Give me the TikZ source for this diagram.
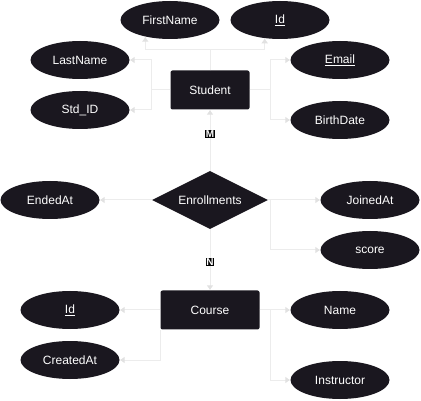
\documentclass[tikz,border=0pt]{standalone}
\usepackage{fontspec}
\setmainfont{Liberation Sans}
\usetikzlibrary{shapes.geometric,arrows.meta}
\definecolor{boxfill}{RGB}{26,23,31}
\definecolor{linegray}{RGB}{236,236,236}
\tikzset{
  attr/.style={ellipse,fill=boxfill,text=white,minimum width=99pt,minimum height=38pt,inner sep=0pt,font=\fontsize{12}{14}\selectfont},
  entity/.style={rectangle,rounded corners=2pt,fill=boxfill,text=white,minimum height=39pt,inner sep=0pt,font=\fontsize{12}{14}\selectfont},
  rel/.style={diamond,fill=boxfill,text=white,minimum width=116pt,minimum height=58pt,aspect=2,inner sep=0pt,font=\fontsize{12}{14}\selectfont},
  conn/.style={draw=linegray,line width=1pt},
  arr/.style={conn,-{Latex[length=5pt,width=7pt,color=linegray!90!gray]}},
  card/.style={fill=black,text=white,inner sep=0.6pt,font=\fontsize{10}{11}\selectfont\bfseries}
}

\begin{document}
\begin{tikzpicture}[x=1pt,y=-1pt]
  \useasboundingbox (0,0) rectangle (421,401);
  % entities and relationship
  \node[entity,minimum width=79pt] (Student) at (210,90) {Student};
  \node[rel] (Enroll) at (210,200) {Enrollments};
  \node[entity,minimum width=99pt] (Course) at (210,310) {Course};
  % student attributes
  \node[attr] (FirstName) at (170,20) {FirstName};
  \node[attr] (StdId) at (280,20) {\underline{Id}};
  \node[attr] (LastName) at (80,60) {LastName};
  \node[attr] (StdNo) at (80,110) {Std\_ID};
  \node[attr] (Email) at (340,60) {\underline{Email}};
  \node[attr] (BirthDate) at (340,120) {BirthDate};
  % enrollment attributes
  \node[attr] (EndedAt) at (50,200) {EndedAt};
  \node[attr] (JoinedAt) at (370,200) {JoinedAt};
  \node[attr] (Score) at (370,250) {score};
  % course attributes
  \node[attr] (CourseId) at (70,310) {\underline{Id}};
  \node[attr] (CreatedAt) at (70,360) {CreatedAt};
  \node[attr] (Name) at (340,310) {Name};
  \node[attr] (Instructor) at (340,380) {Instructor};
  % junctions
  \coordinate (sTop) at (210,50);
  \coordinate (sLeft) at (151,90);
  \coordinate (sRight) at (270,90);
  \coordinate (eRight) at (270,200);
  \coordinate (cRight) at (270,310);
  % student connectors
  \draw[conn] (Student.north) -- (sTop);
  \draw[arr] (sTop) -| (FirstName.214);
  \draw[arr] (sTop) -| (StdId.230);
  \draw[conn] (Student.west) -- (sLeft);
  \draw[arr] (sLeft) |- (LastName);
  \draw[arr] (sLeft) |- (StdNo);
  \draw[conn] (Student.east) -- (sRight);
  \draw[arr] (sRight) |- (Email);
  \draw[arr] (sRight) |- (BirthDate);
  % relationship connectors
  \draw[arr] (Enroll.north) -- (Student.south) node[card,pos=0.6] {M};
  \draw[arr] (Enroll.south) -- (Course.north) node[card,pos=0.53] {N};
  \draw[arr] (Enroll.west) -- (EndedAt);
  \draw[arr] (Enroll.east) -- (JoinedAt);
  \draw[arr] (eRight) |- (Score);
  % course connectors
  \draw[arr] (Course.west) -- (CourseId);
  \draw[arr] (Course.south west) |- (CreatedAt);
  \draw[arr] (Course.east) -- (Name);
  \draw[arr] (cRight) |- (Instructor);
\end{tikzpicture}
\end{document}
